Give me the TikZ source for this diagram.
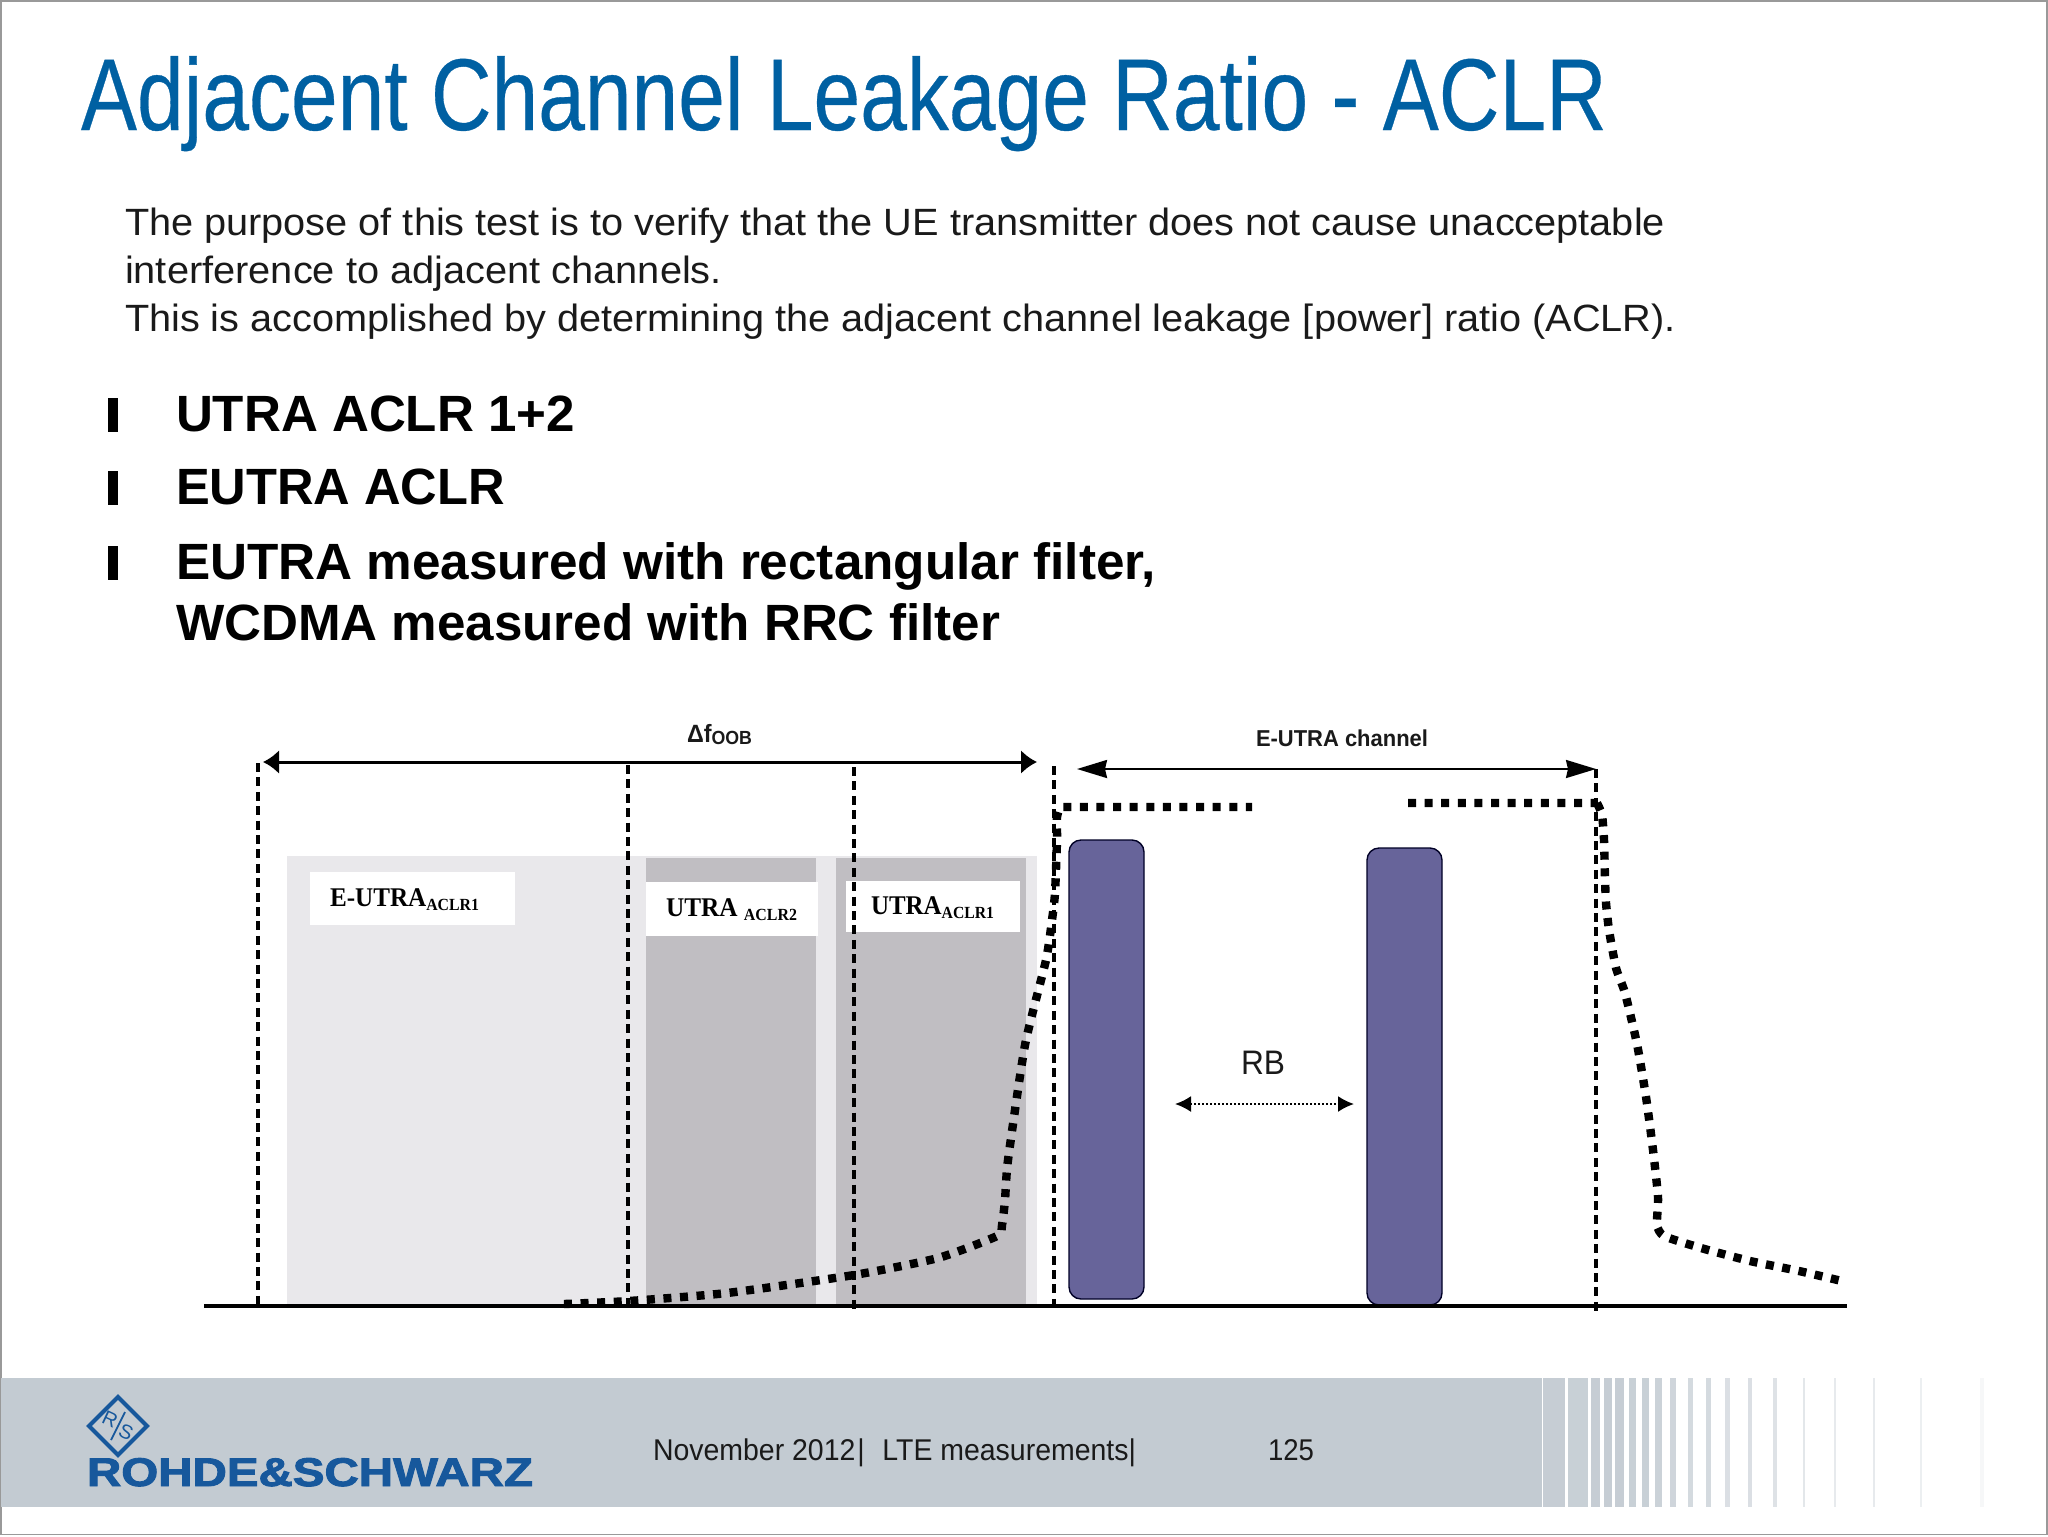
\documentclass[tikz,border=0pt]{standalone}
\usepackage{fontspec}
\usepackage{graphicx}
\usetikzlibrary{arrows.meta}
\setmainfont{Liberation Sans}
\newfontfamily\tms{Liberation Serif}
\newfontfamily\logofont[BoldFeatures={FakeBold=2.2}]{Liberation Sans}
\newfontfamily\titlefont[FakeBold=0.35]{Liberation Sans}
\definecolor{titleblue}{HTML}{0060A2}
\definecolor{logoblue}{HTML}{17589C}
\definecolor{bandgray}{HTML}{C3CBD2}
\definecolor{lightbar}{HTML}{E9E8EB}
\definecolor{darkbar}{HTML}{C0BEC2}
\definecolor{rbfill}{HTML}{67649A}
\definecolor{inktext}{HTML}{1A1A1A}
\newcommand{\fw}[2]{\resizebox{#1}{\height}{#2}}
\newcommand{\fs}[1]{\fontsize{#1}{#1}\selectfont}
\tikzset{
  x=0.5pt,y=-0.5pt,
  txt/.style={anchor=base west,inner sep=0pt,outer sep=0pt},
  guide/.style={draw=black,line width=1.9pt,dash pattern=on 4.5pt off 2.7pt},
  mask/.style={draw=black,line width=4.2pt,dash pattern=on 4pt off 4.3pt},
  labelbox/.style={fill=white,draw=none},
  rbbar/.style={fill=rbfill,draw=black!85!blue,line width=0.7pt,rounded corners=6pt},
  bulletbar/.style={fill=black,draw=none},
}
\begin{document}
\begin{tikzpicture}
\useasboundingbox (0,0) rectangle (2048,1536);
\fill[white] (0,0) rectangle (2048,1536);
\draw[gray!80,line width=0.8pt] (0.8,0.8) rectangle (2047.2,1534.5);

% footer band
\fill[bandgray] (1,1378) rectangle (1542,1507);
\foreach \a/\b/\o in {347/400/0.95,407/456/0.9,462/484/0.95,493/513/0.95,521/541/0.95,555/572/0.9,585/603/0.9,616/633/0.85,653/667/0.8,698/708/0.7,741/753/0.7,786/798/0.6,842/852/0.6,902/912/0.55,975/981/0.45,1050/1056/0.4,1145/1150/0.4,1258/1264/0.3,1403/1412/0.15}{
  \fill[bandgray,opacity=\o] ({1400+\a/2.42},1378) rectangle ({1400+\b/2.42},1507);
}

% title and text
\node[txt,text=titleblue] (title) at (81,130) {\fw{763pt}{\titlefont\fs{51}Adjacent Channel Leakage Ratio - ACLR}};
\node[txt,text=inktext] (p1) at (125,235) {\fw{770pt}{\fs{19}The purpose of this test is to verify that the UE transmitter does not cause unacceptable}};
\node[txt,text=inktext] (p2) at (125,283) {\fw{298.5pt}{\fs{19}interference to adjacent channels.}};
\node[txt,text=inktext] (p3) at (125,331) {\fw{775.5pt}{\fs{19}This is accomplished by determining the adjacent channel leakage [power] ratio (ACLR).}};

\fill[bulletbar] (107.5,398) rectangle (118,432);
\fill[bulletbar] (107.5,471) rectangle (118,505);
\fill[bulletbar] (107.5,546) rectangle (118,580);
\node[txt] (b1) at (176,431) {\fw{199.5pt}{\fs{25.5}\bfseries UTRA ACLR 1+2}};
\node[txt] (b2) at (176,504) {\fw{164.5pt}{\fs{25.5}\bfseries EUTRA ACLR}};
\node[txt] (b3) at (176,579) {\fw{490pt}{\fs{25.5}\bfseries EUTRA measured with rectangular filter,}};
\node[txt] (b4) at (176,640) {\fw{412pt}{\fs{25.5}\bfseries WCDMA measured with RRC filter}};

% spectrum bars
\fill[lightbar] (287,856) rectangle (1037,1305);
\fill[darkbar] (646,858) rectangle (816,1305);
\fill[darkbar] (836,858) rectangle (1026,1305);

% label boxes
\fill[labelbox] (310,872) rectangle (515,925);
\fill[labelbox] (646,882) rectangle (818,936);
\fill[labelbox] (846,881) rectangle (1020,932);
\node[txt] (l1) at (330,906) {\fw{74.5pt}{\tms\bfseries\fs{13.5}E-UTRA\raisebox{-2pt}{\fs{8.5}ACLR1}}};
\node[txt] (l2) at (666,916) {\fw{65.5pt}{\tms\bfseries\fs{13.5}UTRA \raisebox{-2pt}{\fs{8.5}ACLR2}}};
\node[txt] (l3) at (871,914) {\fw{61.5pt}{\tms\bfseries\fs{13.5}UTRA\raisebox{-2pt}{\fs{8.5}ACLR1}}};

% RB bars
\draw[rbbar] (1069,840) rectangle (1144,1299);
\draw[rbbar] (1367,848) rectangle (1442,1305);

% guides
\coordinate (g1t) at (258,763); \coordinate (g1b) at (258,1306);
\coordinate (g2t) at (628,765); \coordinate (g2b) at (628,1306);
\coordinate (g3t) at (854,767); \coordinate (g3b) at (854,1310);
\coordinate (g4t) at (1054,766); \coordinate (g4b) at (1054,1306);
\coordinate (g5t) at (1596,769); \coordinate (g5b) at (1596,1311);
\draw[guide] (g1t) -- (g1b);
\draw[guide] (g2t) -- (g2b);
\draw[guide] (g3t) -- (g3b);
\draw[guide] (g4t) -- (g4b);
\draw[guide] (g5t) -- (g5b);

% axis
\coordinate (ax0) at (204,1306); \coordinate (ax1) at (1847,1306);
\draw[black,line width=2pt] (ax0) -- (ax1);

% spectrum mask
\draw[mask] plot[smooth,tension=0.35] coordinates {(564,1304) (629,1301) (727,1293) (854,1275) (938,1258) (997,1236) (1002,1225) (1005,1200) (1008,1160) (1025,1045) (1046,960) (1052,920) (1055,893) (1057,840) (1057,817) (1060,807)} -- (1252,807);
\draw[mask] (1408,803) -- (1597,803) plot[smooth,tension=0.35] coordinates {(1597,803) (1602,815) (1604,840) (1605,879) (1606,903) (1609,930) (1616,968) (1625,993) (1637,1044) (1646,1097) (1653,1150) (1658,1197) (1657,1225) (1664,1236) (1701,1248) (1750,1261) (1799,1271) (1846,1282)};

% dimension arrows
\coordinate (a1l) at (263,762); \coordinate (a1r) at (1037,762);
\draw[line width=1.5pt,{Latex[length=8pt,width=12pt]}-{Latex[length=8pt,width=12pt]}] (a1l) -- (a1r);
\coordinate (a2l) at (1077,769); \coordinate (a2r) at (1596,769);
\draw[line width=1.1pt,{Stealth[length=15pt,width=9pt,inset=1pt]}-{Stealth[length=15pt,width=9pt,inset=1pt]}] (a2l) -- (a2r);
\coordinate (a3l) at (1175,1104); \coordinate (a3r) at (1354,1104);
\draw[line width=1pt,densely dotted,{Latex[length=8pt,width=8pt]}-{Latex[length=8pt,width=8pt]}] (a3l) -- (a3r);

\node[txt,text=inktext] (dfoob) at (687,742) {\fw{32.5pt}{\bfseries\fs{12.5}Δf\raisebox{-1pt}{\fs{9.5}OOB}}};
\node[txt,text=inktext] (euch) at (1256,746) {\fw{86pt}{\bfseries\fs{11.5}E-UTRA channel}};
\node[txt,text=inktext] (rb) at (1241,1074) {\fw{22pt}{\fs{17}RB}};

% footer text
\node[txt,text=inktext] (foot1) at (653,1460) {\fw{241.5pt}{\fs{15}November 2012\kern1pt|\ \ \kern1pt LTE measurements|}};
\node[txt,text=inktext] (foot2) at (1268,1460) {\fw{23pt}{\fs{15}125}};

% logo
\coordinate (dN) at (118,1397); \coordinate (dE) at (147,1426); \coordinate (dS) at (118,1455); \coordinate (dW) at (89,1426);
\draw[logoblue,line width=2pt,line join=miter] (dN) -- (dE) -- (dS) -- (dW) -- cycle;
\draw[logoblue,line width=0.9pt] (125,1412) -- (111,1440);
\node[text=logoblue,inner sep=0pt,rotate=-25] (logoR) at (110,1419) {\fs{10}R};
\node[text=logoblue,inner sep=0pt,rotate=-25] (logoS) at (126,1432) {\fs{10}S};
\node[txt,text=logoblue] (logo) at (87,1486) {\fw{223pt}{\logofont\bfseries\fs{20}ROHDE\&SCHWARZ}};
\end{tikzpicture}
\end{document}
